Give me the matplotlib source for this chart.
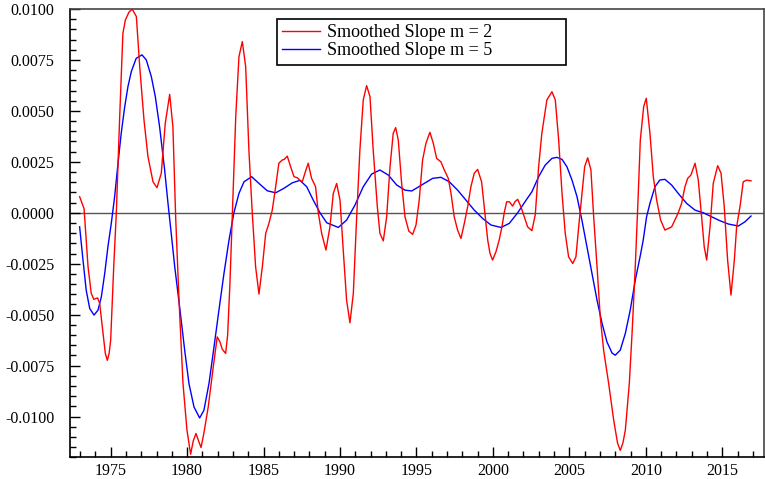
import matplotlib.pyplot as plt
from matplotlib.ticker import MultipleLocator, FormatStrFormatter

plt.rcParams['font.family'] = ['Liberation Serif', 'DejaVu Serif']
plt.rcParams['axes.unicode_minus'] = False

# smoothed slope, m = 2
red_year = [1972.97, 1973.26, 1973.52, 1973.73, 1973.90, 1974.05, 1974.15, 1974.28, 1974.50, 1974.65,
            1974.78, 1974.90, 1975.00, 1975.20, 1975.37, 1975.59, 1975.80, 1975.96, 1976.20, 1976.41,
            1976.68, 1976.90, 1977.18, 1977.44, 1977.77, 1978.03, 1978.31, 1978.57, 1978.86, 1979.07,
            1979.25, 1979.47, 1979.73, 1979.99, 1980.23, 1980.40, 1980.58, 1980.75, 1980.91, 1981.10,
            1981.38, 1981.71, 1981.97, 1982.15, 1982.30, 1982.52, 1982.65, 1982.80, 1982.96, 1983.18,
            1983.39, 1983.61, 1983.83, 1984.04, 1984.26, 1984.48, 1984.70, 1984.92, 1985.14, 1985.35,
            1985.57, 1985.79, 1986.00, 1986.22, 1986.35, 1986.55, 1986.77, 1986.99, 1987.20, 1987.40,
            1987.53, 1987.77, 1987.92, 1988.14, 1988.40, 1988.58, 1988.80, 1989.08, 1989.34, 1989.56,
            1989.78, 1990.00, 1990.21, 1990.43, 1990.65, 1990.87, 1991.09, 1991.30, 1991.52, 1991.74,
            1991.96, 1992.17, 1992.44, 1992.61, 1992.83, 1993.05, 1993.27, 1993.48, 1993.64, 1993.81,
            1994.03, 1994.25, 1994.50, 1994.75, 1994.97, 1995.18, 1995.40, 1995.62, 1995.88, 1996.10,
            1996.32, 1996.60, 1996.82, 1997.08, 1997.26, 1997.47, 1997.69, 1997.91, 1998.13, 1998.35,
            1998.56, 1998.78, 1999.00, 1999.26, 1999.43, 1999.66, 1999.81, 1999.98, 2000.20, 2000.41,
            2000.59, 2000.74, 2000.90, 2001.07, 2001.29, 2001.45, 2001.62, 2001.83, 2002.05, 2002.27,
            2002.55, 2002.77, 2002.99, 2003.20, 2003.53, 2003.86, 2004.08, 2004.30, 2004.52, 2004.73,
            2004.95, 2005.22, 2005.43, 2005.61, 2005.78, 2006.00, 2006.20, 2006.41, 2006.59, 2006.81,
            2007.02, 2007.24, 2007.57, 2007.90, 2008.15, 2008.33, 2008.50, 2008.66, 2008.92, 2009.10,
            2009.31, 2009.49, 2009.64, 2009.86, 2010.03, 2010.27, 2010.49, 2010.71, 2010.97, 2011.25,
            2011.47, 2011.69, 2011.90, 2012.12, 2012.34, 2012.56, 2012.74, 2012.95, 2013.22, 2013.43,
            2013.65, 2013.82, 2013.98, 2014.20, 2014.41, 2014.70, 2014.92, 2015.13, 2015.35, 2015.57,
            2015.79, 2015.94, 2016.16, 2016.37, 2016.59, 2016.88]
red_slope = [0.00079, 0.00020, -0.00265, -0.00396, -0.00425, -0.00420, -0.00418, -0.00445, -0.00593, -0.00690,
             -0.00724, -0.00690, -0.00625, -0.00265, 0.00000, 0.00472, 0.00880, 0.00946, 0.00985, 0.00999,
             0.00963, 0.00717, 0.00455, 0.00275, 0.00152, 0.00123, 0.00194, 0.00439, 0.00581, 0.00422,
             -0.00020, -0.00429, -0.00838, -0.01067, -0.01185, -0.01120, -0.01083, -0.01120, -0.01152, -0.01080,
             -0.00953, -0.00756, -0.00609, -0.00634, -0.00670, -0.00690, -0.00600, -0.00347, 0.00000, 0.00472,
             0.00766, 0.00840, 0.00717, 0.00308, 0.00000, -0.00265, -0.00399, -0.00265, -0.00101, -0.00052,
             0.00013, 0.00128, 0.00243, 0.00259, 0.00262, 0.00278, 0.00226, 0.00177, 0.00172, 0.00158,
             0.00152, 0.00210, 0.00243, 0.00169, 0.00128, 0.00000, -0.00101, -0.00183, -0.00069, 0.00095,
             0.00144, 0.00062, -0.00183, -0.00429, -0.00540, -0.00396, -0.00020, 0.00308, 0.00554, 0.00624,
             0.00570, 0.00308, 0.00030, -0.00101, -0.00138, -0.00020, 0.00226, 0.00390, 0.00418, 0.00357,
             0.00144, -0.00020, -0.00090, -0.00106, -0.00060, 0.00062, 0.00259, 0.00341, 0.00395, 0.00341,
             0.00267, 0.00250, 0.00210, 0.00169, 0.00095, -0.00020, -0.00085, -0.00126, -0.00052, 0.00030,
             0.00128, 0.00194, 0.00213, 0.00152, 0.00030, -0.00134, -0.00200, -0.00232, -0.00191, -0.00134,
             -0.00069, 0.00000, 0.00054, 0.00054, 0.00033, 0.00055, 0.00066, 0.00030, -0.00020, -0.00069,
             -0.00088, -0.00010, 0.00226, 0.00390, 0.00554, 0.00594, 0.00554, 0.00357, 0.00095, -0.00101,
             -0.00216, -0.00249, -0.00216, -0.00069, 0.00062, 0.00226, 0.00270, 0.00210, -0.00020, -0.00265,
             -0.00511, -0.00674, -0.00838, -0.01018, -0.01130, -0.01166, -0.01130, -0.01067, -0.00838, -0.00592,
             -0.00265, 0.00062, 0.00357, 0.00521, 0.00562, 0.00390, 0.00177, 0.00062, -0.00036, -0.00085,
             -0.00077, -0.00069, -0.00036, 0.00000, 0.00046, 0.00128, 0.00169, 0.00185, 0.00243, 0.00161,
             -0.00020, -0.00167, -0.00232, -0.00069, 0.00144, 0.00231, 0.00194, 0.00030, -0.00232, -0.00404,
             -0.00232, -0.00069, 0.00030, 0.00152, 0.00160, 0.00157]

# smoothed slope, m = 5
blue_year = [1972.97, 1973.19, 1973.40, 1973.63, 1973.91, 1974.17, 1974.39, 1974.61, 1974.82, 1975.04,
             1975.26, 1975.48, 1975.69, 1975.92, 1976.13, 1976.35, 1976.67, 1977.05, 1977.33, 1977.66,
             1977.92, 1978.20, 1978.53, 1978.75, 1978.96, 1979.19, 1979.51, 1979.84, 1980.12, 1980.45,
             1980.82, 1981.10, 1981.43, 1981.76, 1982.08, 1982.41, 1982.74, 1983.06, 1983.39, 1983.72,
             1984.22, 1984.70, 1985.24, 1985.79, 1986.33, 1986.88, 1987.38, 1987.82, 1988.25, 1988.69,
             1989.13, 1989.89, 1990.43, 1990.98, 1991.52, 1992.07, 1992.61, 1993.16, 1993.71, 1994.25,
             1994.69, 1995.51, 1996.06, 1996.60, 1997.15, 1997.69, 1998.24, 1998.78, 1999.33, 1999.87,
             2000.53, 2001.07, 2001.62, 2002.17, 2002.55, 2002.99, 2003.42, 2003.86, 2004.19, 2004.52,
             2004.84, 2005.17, 2005.50, 2005.82, 2006.15, 2006.48, 2006.81, 2007.14, 2007.46, 2007.79,
             2008.00, 2008.33, 2008.66, 2008.98, 2009.31, 2009.64, 2009.83, 2010.05, 2010.27, 2010.60,
             2010.92, 2011.25, 2011.69, 2012.12, 2012.67, 2013.22, 2013.76, 2014.31, 2014.85, 2015.39,
             2016.05, 2016.49, 2016.88]
blue_slope = [-0.00069, -0.00232, -0.00380, -0.00470, -0.00502, -0.00478, -0.00413, -0.00298, -0.00167, -0.00052,
              0.00079, 0.00243, 0.00390, 0.00521, 0.00619, 0.00693, 0.00758, 0.00775, 0.00750, 0.00668,
              0.00570, 0.00422, 0.00210, 0.00046, -0.00101, -0.00265, -0.00462, -0.00674, -0.00838, -0.00953,
              -0.01007, -0.00969, -0.00838, -0.00658, -0.00478, -0.00298, -0.00134, 0.00000, 0.00095, 0.00152,
              0.00177, 0.00144, 0.00108, 0.00098, 0.00120, 0.00147, 0.00159, 0.00128, 0.00062, 0.00000,
              -0.00049, -0.00072, -0.00036, 0.00038, 0.00128, 0.00190, 0.00210, 0.00185, 0.00136, 0.00111,
              0.00107, 0.00144, 0.00169, 0.00174, 0.00152, 0.00111, 0.00062, 0.00013, -0.00028, -0.00060,
              -0.00072, -0.00052, 0.00000, 0.00062, 0.00103, 0.00177, 0.00234, 0.00267, 0.00272, 0.00262,
              0.00226, 0.00161, 0.00079, -0.00036, -0.00167, -0.00298, -0.00429, -0.00543, -0.00634, -0.00688,
              -0.00699, -0.00674, -0.00592, -0.00478, -0.00331, -0.00210, -0.00134, -0.00020, 0.00046, 0.00128,
              0.00161, 0.00164, 0.00136, 0.00095, 0.00046, 0.00013, 0.00000, -0.00020, -0.00039, -0.00055,
              -0.00065, -0.00044, -0.00016]

fig = plt.figure(figsize=(7.65, 4.79), dpi=100)
ax = fig.add_axes([0.0911, 0.0453, 0.9076, 0.9359])

ax.axhline(0, color='#555555', lw=1.0, zorder=1)
ax.plot(red_year, red_slope, color='red', lw=1.0, label='Smoothed Slope m = 2', zorder=3)
ax.plot(blue_year, blue_slope, color='blue', lw=1.0, label='Smoothed Slope m = 5', zorder=2)

ax.set_xlim(1972.32, 2017.73)
ax.set_ylim(-0.0120, 0.0100)

ax.xaxis.set_major_locator(MultipleLocator(5))
ax.xaxis.set_minor_locator(MultipleLocator(1))
ax.yaxis.set_major_locator(MultipleLocator(0.0025))
ax.yaxis.set_minor_locator(MultipleLocator(0.0005))
ax.yaxis.set_major_formatter(FormatStrFormatter('%.4f'))

ax.tick_params(which='both', direction='in', top=False, right=False, labelsize=11.5, width=1.0)
ax.tick_params(axis='y', which='major', length=7, pad=11)
ax.tick_params(axis='y', which='minor', length=4)
ax.tick_params(axis='x', which='major', length=7, pad=4)
ax.tick_params(axis='x', which='minor', length=4)

for side in ['left', 'bottom']:
    ax.spines[side].set_color('black')
    ax.spines[side].set_linewidth(1.2)
for side in ['top', 'right']:
    ax.spines[side].set_color('#444444')
    ax.spines[side].set_linewidth(1.2)

leg = ax.legend(loc='upper left', bbox_to_anchor=(0.2986, 0.8818, 0.4167, 0.0959), mode='expand',
                borderaxespad=0, fontsize=13, handlelength=2.1, handletextpad=0.35,
                labelspacing=0.05, borderpad=0.3, fancybox=False, framealpha=1)
leg.get_frame().set_edgecolor('black')
leg.get_frame().set_linewidth(1.2)

plt.savefig('out.png', dpi=100)
